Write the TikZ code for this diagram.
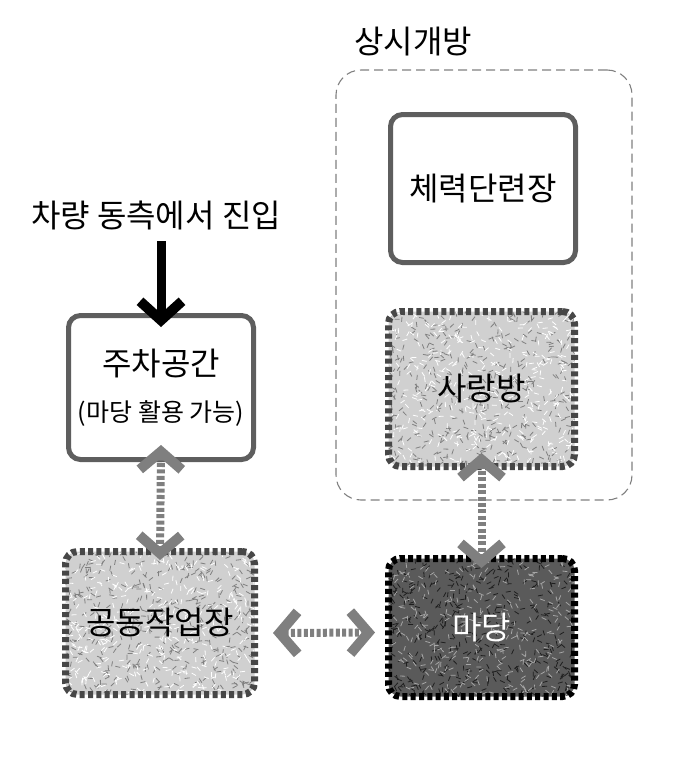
\documentclass[tikz,border=0pt]{standalone}
\usepackage{fontspec}
\setmainfont{Noto Sans CJK KR}
\usetikzlibrary{arrows.meta,calc}
\definecolor{rimgray}{HTML}{5E5E5E}
\definecolor{zonegray}{HTML}{808080}
\definecolor{linkgray}{HTML}{7F7F7F}
\definecolor{palefill}{HTML}{D0D0D0}
\definecolor{darkfill}{HTML}{5A5A5A}
% random short strokes for the grainy fills
\newcommand{\grain}[2]{%
  \foreach \k in {1,...,#2}{
    \draw[#1, line width=.8pt]
      let \p1=(path picture bounding box.south west),
          \p2=(path picture bounding box.north east),
          \n1={rnd}, \n2={rnd}, \n3={360*rnd} in
      ({\x1+\n1*(\x2-\x1)},{\y1+\n2*(\y2-\y1)}) -- ++(\n3:5pt);
  }}
\tikzset{
  bigtext/.style={font=\fontsize{32}{38}\selectfont},
  solidroom/.style={bigtext, draw=rimgray, line width=5pt, rounded corners=12pt, fill=white, align=center},
  grainroom/.style={bigtext, line width=7pt, dash pattern=on 5pt off 3.3pt, rounded corners=12pt},
  paleroom/.style={grainroom, draw=black!72, fill=palefill,
    path picture={\grain{black!50}{420}\grain{white}{380}}},
  darkroom/.style={grainroom, draw=black, fill=darkfill, text=white,
    path picture={\grain{black!88}{420}\grain{black!35}{320}}},
  zone/.style={draw=zonegray, line width=1.1pt, dash pattern=on 9pt off 5pt, rounded corners=25pt},
  entryarrow/.style={line width=9pt, -{Straight Barb[length=19pt, width=42pt, line width=10pt]}},
  linkarrow/.style={draw=linkgray, line width=8pt, dash pattern=on 4pt off 2.4pt,
    {Straight Barb[length=18pt, width=42pt, line width=10pt]}-{Straight Barb[length=18pt, width=42pt, line width=10pt]}}
}
\begin{document}
\begin{tikzpicture}[x=1pt, y=-1pt]
\pgfmathsetseed{11}
\useasboundingbox (0,0) rectangle (677,758);
% always-open zone
\node[zone, minimum width=296pt, minimum height=430pt] (open) at (484,285) {};
\node[bigtext] (openlabel) at (413,42) {상시개방};
\node[solidroom, minimum width=185pt, minimum height=148pt] (gym) at (483,188.5) {체력단련장};
\node[paleroom, minimum width=186pt, minimum height=155pt] (sarang) at (481.5,389) {사랑방};
% left column
\node[bigtext] (entry) at (156,215) {차량 동측에서 진입};
\node[solidroom, minimum width=185pt, minimum height=144pt] (park) at (161,387.5)
  {주차공간\\[8pt]{\fontsize{25}{30}\selectfont (마당 활용 가능)}};
\node[paleroom, minimum width=189pt, minimum height=143pt] (work) at (160,623) {공동작업장};
\node[darkroom, minimum width=186pt, minimum height=138pt] (yard) at (481.5,627.5) {마당};
% arrows
\draw[entryarrow] ([yshift=-8pt]entry.south -| park.north) -- ([yshift=-14pt]park.north);
\draw[linkarrow] ([yshift=17pt]park.south) -- ([yshift=-12pt]work.north);
\draw[linkarrow] ([yshift=17pt]sarang.south) -- ([yshift=-13pt]yard.north);
\draw[linkarrow] ([xshift=15pt,yshift=-10pt]work.east) -- ([xshift=-10pt,yshift=-5pt]yard.west);
\end{tikzpicture}
\end{document}
